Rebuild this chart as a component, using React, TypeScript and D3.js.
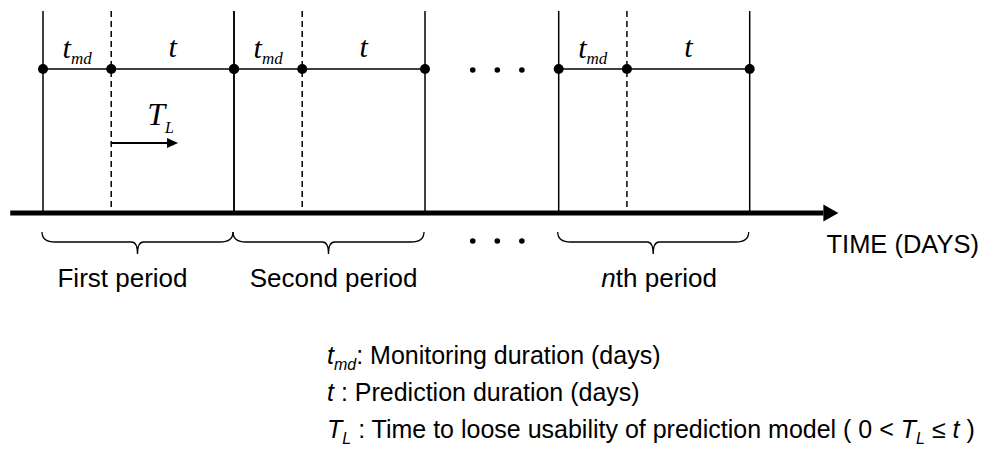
import React from 'react'
import * as d3 from 'd3'

// periods along the time axis (days, schematic)
const periodLabels = ['First period', 'Second period', 'nth period']
const periodStartDays = [0, 14, 37.8]
const monitoringDays = [5, 5, 5] // t_md
const predictionDays = [9, 9, 9] // t
const ellipsisDays = [31.5, 33.3, 35.1]
const axisDays = [-2.4, 58.3]
const lossArrowDays = [5, 9.9] // T_L arrow, first period

const width = 995
const height = 449
const serif = '"Liberation Serif", "Times New Roman", serif'
const sans = '"Liberation Sans", Arial, sans-serif'
// label nudges, px (first label sits left of its brace in the original)
const labelNudge = [-16, 4, 5]

const periods = periodLabels.map((label, i) => ({
  label,
  start: periodStartDays[i],
  md: periodStartDays[i] + monitoringDays[i],
  end: periodStartDays[i] + monitoringDays[i] + predictionDays[i],
}))

const bracePath = (x0: number, x1: number, top: number) => {
  const mid = top + 10
  const tip = top + 22
  const c = (x0 + x1) / 2
  const p = d3.path()
  p.moveTo(x0, top)
  p.quadraticCurveTo(x0, mid, x0 + 13, mid)
  p.lineTo(c - 6, mid)
  p.quadraticCurveTo(c, mid, c, tip)
  p.quadraticCurveTo(c, mid, c + 6, mid)
  p.lineTo(x1 - 13, mid)
  p.quadraticCurveTo(x1, mid, x1, top)
  return p.toString()
}

const App = () => {
  const x = d3.scaleLinear().domain([0, 14]).range([43, 234])

  const yTop = 11
  const yLine = 69
  const yAxis = 213
  const axisEnd = x(axisDays[1])
  const arrowEnd = x(lossArrowDays[1])

  return (
    <svg
      width={width}
      height={height}
      style={{ position: 'absolute', left: 0, top: 0, background: '#fff' }}
    >
      {/* time axis */}
      <line x1={x(axisDays[0])} y1={yAxis} x2={axisEnd - 15} y2={yAxis} stroke="#000" strokeWidth={5} />
      <path d={`M${axisEnd - 15},${yAxis - 8.5}L${axisEnd},${yAxis}L${axisEnd - 15},${yAxis + 8.5}Z`} fill="#000" />

      {periods.map((p, i) => (
        <g key={i}>
          <line x1={x(p.start)} y1={yTop} x2={x(p.start)} y2={yAxis} stroke="#000" strokeWidth={1.5} />
          <line x1={x(p.end)} y1={yTop} x2={x(p.end)} y2={yAxis} stroke="#000" strokeWidth={1.5} />
          <line x1={x(p.md)} y1={yTop} x2={x(p.md)} y2={yAxis} stroke="#000" strokeWidth={1.5} strokeDasharray="6,4" />
          <line x1={x(p.start)} y1={yLine} x2={x(p.end)} y2={yLine} stroke="#000" strokeWidth={1.5} />
          {[p.start, p.md, p.end].map((d, j) => (
            <circle key={j} cx={x(d)} cy={yLine} r={5} fill="#000" />
          ))}
          <text x={(x(p.start) + x(p.md)) / 2} y={58} textAnchor="middle" fontFamily={serif} fontStyle="italic">
            <tspan fontSize={30}>t</tspan>
            <tspan fontSize={17} dy={6}>md</tspan>
          </text>
          <text x={(x(p.md) + x(p.end)) / 2} y={57} textAnchor="middle" fontFamily={serif} fontStyle="italic" fontSize={30}>
            t
          </text>
          <path d={bracePath(x(p.start) - 1, x(p.end) - 1, 232)} fill="none" stroke="#000" strokeWidth={1.3} />
          <text
            x={(x(p.start) + x(p.end)) / 2 + labelNudge[i]}
            y={287}
            textAnchor="middle"
            fontFamily={sans}
            fontSize={26}
            fill="#000"
          >
            {p.label.startsWith('nth') ? (
              <>
                <tspan fontStyle="italic">n</tspan>
                {p.label.slice(1)}
              </>
            ) : (
              p.label
            )}
          </text>
        </g>
      ))}

      {/* ellipsis between periods */}
      {ellipsisDays.map((d, i) => (
        <g key={i}>
          <circle cx={x(d)} cy={70} r={2.8} fill="#000" />
          <circle cx={x(d)} cy={241} r={2.8} fill="#000" />
        </g>
      ))}

      {/* T_L arrow */}
      <line x1={x(lossArrowDays[0])} y1={143} x2={arrowEnd - 9} y2={143} stroke="#000" strokeWidth={2} />
      <path d={`M${arrowEnd - 11},138L${arrowEnd},143L${arrowEnd - 11},148Z`} fill="#000" />
      <text x={x(lossArrowDays[0]) + 36} y={125} fontFamily={serif} fontStyle="italic">
        <tspan fontSize={32}>T</tspan>
        <tspan fontSize={16} dy={8}>L</tspan>
      </text>

      <text x={979} y={253} textAnchor="end" fontFamily={sans} fontSize={25.5} fill="#000">
        TIME (DAYS)
      </text>

      {/* legend */}
      <g fontFamily={sans} fontSize={25} fill="#000">
        <text x={327} y={364}>
          <tspan fontStyle="italic">t</tspan>
          <tspan fontStyle="italic" fontSize={16} dy={6}>md</tspan>
          <tspan dy={-6}>: Monitoring duration (days)</tspan>
        </text>
        <text x={327} y={401}>
          <tspan fontStyle="italic">t</tspan>
          <tspan> : Prediction duration (days)</tspan>
        </text>
        <text x={327} y={438}>
          <tspan fontStyle="italic">T</tspan>
          <tspan fontStyle="italic" fontSize={16} dy={6}>L</tspan>
          <tspan dy={-6}> : Time to loose usability of prediction model ( 0 &lt; </tspan>
          <tspan fontStyle="italic">T</tspan>
          <tspan fontStyle="italic" fontSize={16} dy={6}>L</tspan>
          <tspan dy={-6}> ≤ </tspan>
          <tspan fontStyle="italic">t</tspan>
          <tspan> )</tspan>
        </text>
      </g>
    </svg>
  )
}

export default App
